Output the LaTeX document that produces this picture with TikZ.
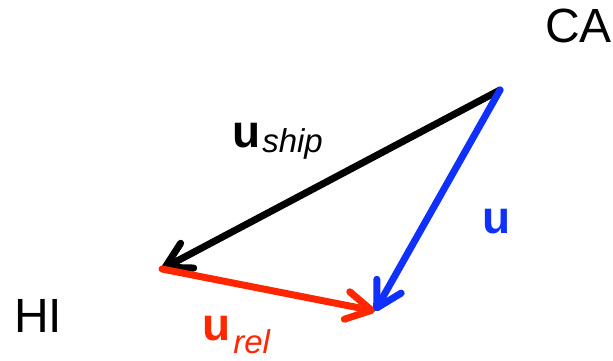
\documentclass[tikz,border=0pt]{standalone}
\usepackage{fontspec}
\setmainfont{Liberation Sans}
\usepackage{tikz}
\usetikzlibrary{arrows.meta}
\definecolor{vblue}{RGB}{16,48,255}
\definecolor{vred}{RGB}{255,38,0}
\newcommand\subfont{\fontsize{33}{33}\selectfont\mdseries\itshape}
\tikzset{
  vec/.style={
    -{Straight Barb[length=25pt,width=28pt,round]}, line width=7pt, line cap=round,
    preaction={draw=black!18, transform canvas={shift={(1.5pt,-2.5pt)}}}
  },
  place/.style={font=\fontsize{48}{48}\selectfont, inner sep=0pt, anchor=base west},
  lbl/.style={place, font=\fontsize{46}{46}\selectfont\bfseries},
  every picture/.append style={line join=round}
}
\begin{document}
\begin{tikzpicture}[x=1pt, y=-1pt]
  \useasboundingbox (0,0) rectangle (613,361);
  \coordinate (ca) at (500,90);
  \coordinate (hi) at (162,269);
  \coordinate (tip) at (375,311);
  % vectors
  \draw[vec, draw=black] (ca) -- (hi);
  \draw[vec, draw=vred] (hi) -- (tip);
  \draw[vec, draw=vblue] (ca) -- (tip);
  % labels
  \node[place] (caname) at (545,43) {CA};
  \node[place] (hiname) at (14,332) {HI};
  \node[lbl] (uship) at (232,147) {u\kern2pt\raisebox{-5pt}{\subfont ship}};
  \node[lbl, text=vblue] (uabs) at (482,233) {u};
  \node[lbl, text=vred] (urel) at (202,340) {u\kern3pt\raisebox{-13pt}{\subfont rel}};
\end{tikzpicture}
\end{document}
